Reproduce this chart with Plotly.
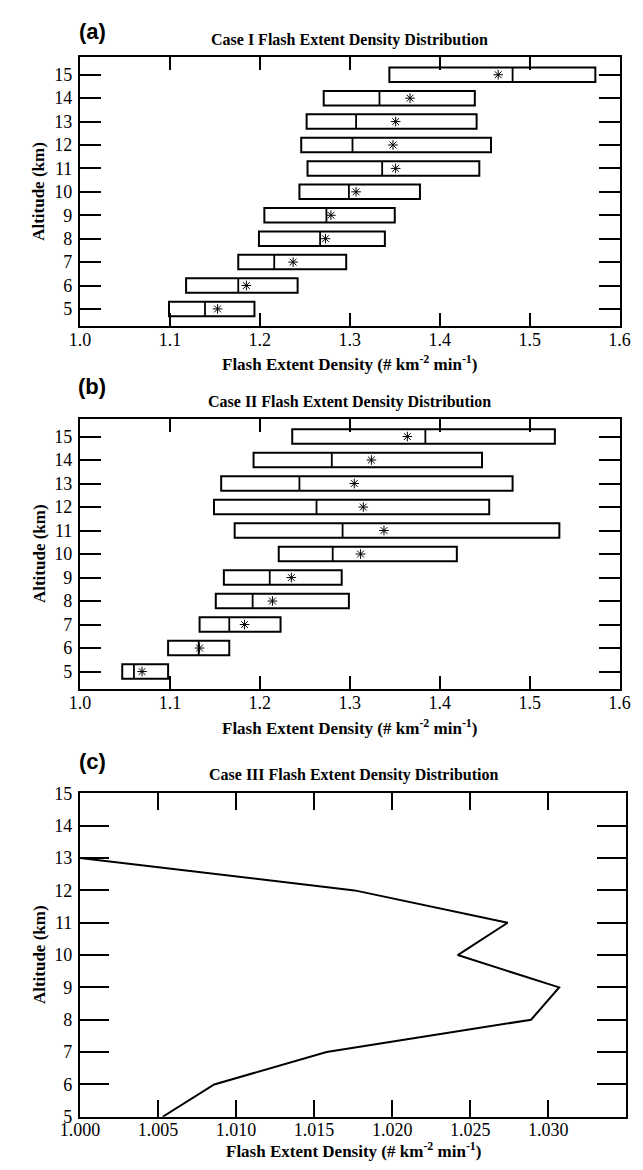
import plotly.graph_objects as go

# ---------------- data ----------------
altitude = [5, 6, 7, 8, 9, 10, 11, 12, 13, 14, 15]

a_left = [1.099, 1.118, 1.176, 1.199, 1.205, 1.244, 1.253, 1.246, 1.252, 1.271, 1.344]
a_median = [1.139, 1.176, 1.216, 1.267, 1.274, 1.299, 1.336, 1.303, 1.307, 1.333, 1.481]
a_mean = [1.153, 1.185, 1.237, 1.273, 1.279, 1.307, 1.351, 1.348, 1.351, 1.367, 1.465]
a_right = [1.194, 1.242, 1.296, 1.339, 1.350, 1.378, 1.444, 1.457, 1.441, 1.439, 1.573]

b_left = [1.047, 1.098, 1.133, 1.151, 1.160, 1.221, 1.172, 1.149, 1.157, 1.193, 1.236]
b_median = [1.060, 1.132, 1.166, 1.192, 1.211, 1.281, 1.292, 1.263, 1.244, 1.280, 1.384]
b_mean = [1.069, 1.133, 1.183, 1.214, 1.235, 1.312, 1.338, 1.315, 1.305, 1.324, 1.364]
b_right = [1.098, 1.166, 1.223, 1.299, 1.291, 1.419, 1.533, 1.455, 1.481, 1.447, 1.528]

c_altitude = [5, 6, 7, 8, 9, 10, 11, 12, 13]
c_fed = [1.0053, 1.0086, 1.0158, 1.0289, 1.0307, 1.0242, 1.0274, 1.0176, 1.0000]

titles = ["Case I Flash Extent Density Distribution",
          "Case II Flash Extent Density Distribution",
          "Case III Flash Extent Density Distribution"]
panel_tags = ["(a)", "(b)", "(c)"]
x_title = "Flash Extent Density (# km<sup>-2</sup> min<sup>-1</sup>)"
y_title = "Altitude (km)"

# ---------------- layout geometry ----------------
W, H = 643, 1170
BOX_H = 0.62
SERIF = "Liberation Serif"


def px(v):
    return v / W


def py(v):
    return 1 - v / H


panels = [  # frame left, right, top, bottom (pixels)
    (63, 630, 48, 322),
    (63, 630, 416, 691),
    (63, 637, 797, 1126),
]

fig = go.Figure()


def add_box_panel(fig, idx, left, median, mean, right):
    xa = "x" if idx == 1 else f"x{idx}"
    ya = "y" if idx == 1 else f"y{idx}"
    widths = [r - l for l, r in zip(left, right)]
    fig.add_trace(go.Bar(
        y=altitude, x=widths, base=left, orientation="h", width=BOX_H,
        marker=dict(color="white", line=dict(color="black", width=2)),
        xaxis=xa, yaxis=ya, showlegend=False, hoverinfo="skip"))
    mx, my = [], []
    for m, a in zip(median, altitude):
        mx += [m, m, None]
        my += [a - BOX_H / 2, a + BOX_H / 2, None]
    fig.add_trace(go.Scatter(
        x=mx, y=my, mode="lines", line=dict(color="black", width=1.8),
        xaxis=xa, yaxis=ya, showlegend=False, hoverinfo="skip"))
    fig.add_trace(go.Scatter(
        x=mean, y=altitude, mode="markers",
        marker=dict(symbol="asterisk-open", size=8, color="black",
                    line=dict(color="black", width=1)),
        xaxis=xa, yaxis=ya, showlegend=False, hoverinfo="skip"))


add_box_panel(fig, 1, a_left, a_median, a_mean, a_right)
add_box_panel(fig, 2, b_left, b_median, b_mean, b_right)

fig.add_trace(go.Scatter(
    x=c_fed, y=c_altitude, mode="lines", line=dict(color="black", width=2),
    xaxis="x3", yaxis="y3", showlegend=False, hoverinfo="skip"))

common = dict(showline=True, linecolor="black", linewidth=2, mirror="allticks",
              ticks="inside", tickcolor="black", tickwidth=2, showgrid=False,
              zeroline=False, tickfont=dict(family=SERIF, size=18, color="black"))

layout_axes = {}
for i, (l, r, t, b) in enumerate(panels, start=1):
    xk = "xaxis" if i == 1 else f"xaxis{i}"
    yk = "yaxis" if i == 1 else f"yaxis{i}"
    ya = "y" if i == 1 else f"y{i}"
    xa = "x" if i == 1 else f"x{i}"
    if i < 3:
        xcfg = dict(range=[1.0, 1.6], tick0=1.0, dtick=0.1, tickformat=".1f", ticklen=13)
        ycfg = dict(range=[4.25, 15.75], tickvals=altitude, ticklen=21)
    else:
        xcfg = dict(range=[1.0, 1.035], tick0=1.0, dtick=0.005, tickformat=".3f", ticklen=17)
        ycfg = dict(range=[5, 15], tick0=5, dtick=1, ticklen=29)
    layout_axes[xk] = dict(domain=[px(l), px(r)], anchor=ya, ticklabelstandoff=-4,
                           **xcfg, **common)
    layout_axes[yk] = dict(domain=[py(b), py(t)], anchor=xa, ticklabelstandoff=2,
                           **ycfg, **common)

annotations = []
tag_y = [22, 383, 765]
title_y = [31, 399, 778]
xt_y = [359, 729, 1160]
for i, (l, r, t, b) in enumerate(panels):
    cx = (l + r) / 2
    annotations.append(dict(text=f"<b>{panel_tags[i]}</b>", x=px(76), y=py(tag_y[i]),
                            xref="paper", yref="paper", showarrow=False,
                            xanchor="center", yanchor="middle",
                            font=dict(family="Liberation Sans", size=22, color="black")))
    annotations.append(dict(text=f"<b>{titles[i]}</b>", x=px(cx), y=py(title_y[i]),
                            xref="paper", yref="paper", showarrow=False,
                            xanchor="center", yanchor="middle",
                            font=dict(family=SERIF, size=16, color="black")))
    annotations.append(dict(text=f"<b>{x_title}</b>", x=px(cx), y=py(xt_y[i]),
                            xref="paper", yref="paper", showarrow=False,
                            xanchor="center", yanchor="middle",
                            font=dict(family=SERIF, size=17, color="black")))
    annotations.append(dict(text=f"<b>{y_title}</b>", x=px(20), y=py((t + b) / 2),
                            xref="paper", yref="paper", showarrow=False, textangle=-90,
                            xanchor="center", yanchor="middle",
                            font=dict(family=SERIF, size=17, color="black")))

fig.update_layout(width=W, height=H, margin=dict(l=0, r=0, t=0, b=0),
                  paper_bgcolor="white", plot_bgcolor="white",
                  showlegend=False, annotations=annotations, **layout_axes)

fig.write_html("out.html")
